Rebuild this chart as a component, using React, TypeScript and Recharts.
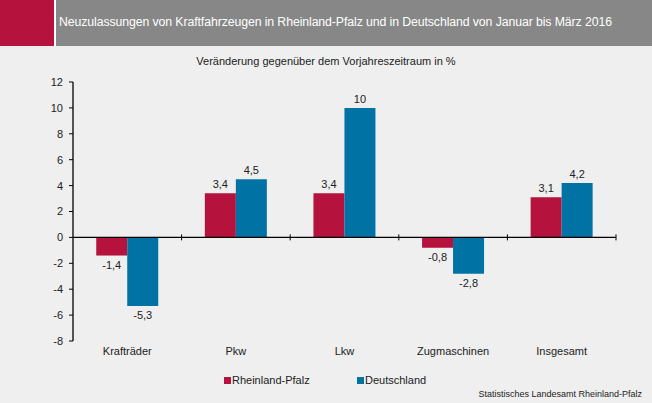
import React from "react";
import { BarChart, Bar, XAxis, YAxis, ReferenceLine, LabelList, Legend } from "recharts";

const categories = ["Krafträder", "Pkw", "Lkw", "Zugmaschinen", "Insgesamt"];
const rlp = [-1.4, 3.4, 3.4, -0.8, 3.1];
const de = [-5.3, 4.5, 10, -2.8, 4.2];
const yTicks = [-8, -6, -4, -2, 0, 2, 4, 6, 8, 10, 12];

const data = categories.map((c, i) => ({ name: c, rlp: rlp[i], de: de[i] }));

const RED = "#b5123e";
const BLUE = "#0072a3";
const BG = "#eeefee";
const FONT = "'Liberation Sans', Arial, sans-serif";

const fmt = (v: number) => String(v).replace(".", ",");

const ValueLabel = (props: any) => {
  const { x, y, width, height, value } = props;
  const v = Number(value);
  const cx = x + width / 2;
  const top = Math.min(y, y + height);
  const bottom = Math.max(y, y + height);
  const ty = v >= 0 ? top - 5 : bottom + 13;
  return (
    <text x={cx} y={ty} textAnchor="middle" fontSize={11} fill="#222" fontFamily={FONT}>
      {fmt(v)}
    </text>
  );
};

const ZeroLine = (props: any) => {
  const { x1, x2, y1 } = props;
  const n = categories.length;
  const step = (x2 - x1) / n;
  const ticks = [];
  for (let i = 1; i <= n; i++) {
    const tx = x1 + step * i;
    ticks.push(<line key={i} x1={tx} x2={tx} y1={y1 - 3} y2={y1 + 3} stroke="#000" strokeWidth={1} />);
  }
  return (
    <g>
      <line x1={x1} x2={x2} y1={y1} y2={y1} stroke="#000" strokeWidth={1.3} />
      {ticks}
    </g>
  );
};

const LegendContent = () => (
  <div style={{ position: "relative", height: 16, fontFamily: FONT, fontSize: 11, color: "#222" }}>
    <div style={{ position: "absolute", left: 224, top: 3, width: 7, height: 7, background: RED }} />
    <div style={{ position: "absolute", left: 232, top: 0 }}>Rheinland-Pfalz</div>
    <div style={{ position: "absolute", left: 357, top: 3, width: 7, height: 7, background: BLUE }} />
    <div style={{ position: "absolute", left: 365, top: 0 }}>Deutschland</div>
  </div>
);

export default function App() {
  return (
    <div style={{ position: "absolute", left: 0, top: 0, width: 652, height: 403, background: BG, overflow: "hidden", fontFamily: FONT }}>
      <div style={{ position: "absolute", left: 0, top: 0, width: 54, height: 46, background: RED }} />
      <div style={{ position: "absolute", left: 54, top: 0, width: 2, height: 46, background: "#ffffff" }} />
      <div style={{ position: "absolute", left: 56, top: 0, width: 596, height: 46, background: "#878787" }} />
      <div style={{ position: "absolute", left: 59, top: 15, color: "#fff", fontSize: 12.3, whiteSpace: "nowrap", letterSpacing: -0.1 }}>
        Neuzulassungen von Kraftfahrzeugen in Rheinland-Pfalz und in Deutschland von Januar bis März 2016
      </div>
      <div style={{ position: "absolute", left: 0, top: 55, width: 652, textAlign: "center", color: "#222", fontSize: 11 }}>
        Veränderung gegenüber dem Vorjahreszeitraum in %
      </div>
      <div style={{ position: "absolute", right: 10, top: 389, color: "#222", fontSize: 9 }}>
        Statistisches Landesamt Rheinland-Pfalz
      </div>
      <div style={{ position: "absolute", left: 0, top: 0 }}>
        <BarChart
          width={652}
          height={403}
          data={data}
          margin={{ top: 82, right: 36, left: 0, bottom: 0 }}
          barCategoryGap="21.4%"
          barGap={0}
        >
          <XAxis
            dataKey="name"
            axisLine={false}
            tickLine={false}
            height={46}
            tick={{ fontSize: 11, fill: "#222", fontFamily: FONT }}
            tickMargin={0}
            interval={0}
          />
          <YAxis
            domain={[-8, 12]}
            ticks={yTicks}
            width={73}
            axisLine={{ stroke: "#000", strokeWidth: 1.3 }}
            tickLine={{ stroke: "#000" }}
            tickSize={4}
            tick={{ fontSize: 11, fill: "#222", fontFamily: FONT }}
            tickMargin={6}
            interval={0}
            allowDataOverflow
          />
          <Bar dataKey="rlp" fill={RED} isAnimationActive={false}>
            <LabelList dataKey="rlp" content={ValueLabel} />
          </Bar>
          <Bar dataKey="de" fill={BLUE} isAnimationActive={false}>
            <LabelList dataKey="de" content={ValueLabel} />
          </Bar>
          <ReferenceLine y={0} shape={ZeroLine} />
          <Legend
            content={LegendContent}
            wrapperStyle={{ position: "absolute", left: 0, top: 374, width: 652, height: 16 }}
          />
        </BarChart>
      </div>
    </div>
  );
}
